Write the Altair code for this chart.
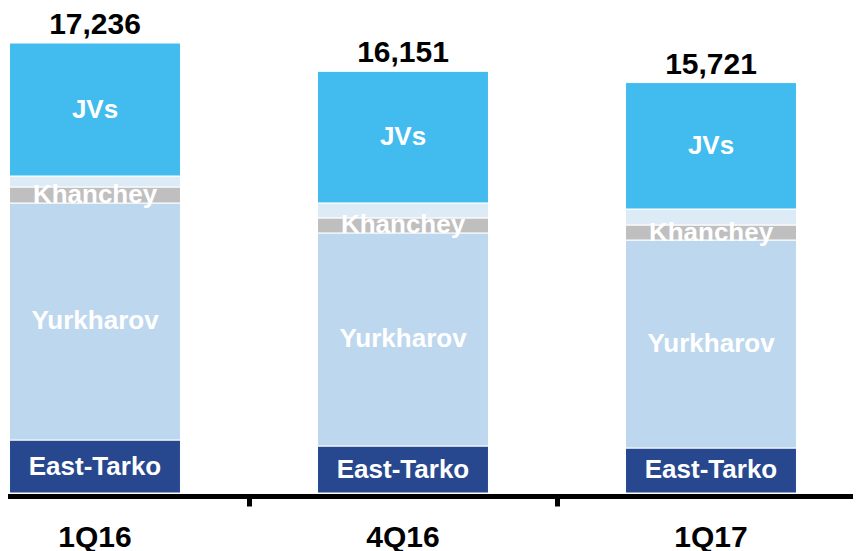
import altair as alt
import pandas as pd

quarters = ["1Q16", "4Q16", "1Q17"]
segments = ["East-Tarko", "Yurkharov", "Khanchey", "Other", "JVs"]
seg_labels = ["East-Tarko", "Yurkharov", "Khanchey", "", "JVs"]
east_tarko = [2030, 1800, 1724]
yurkharov = [9078, 8161, 7966]
khanchey = [613, 575, 575]
other = [421, 575, 613]
jvs = [5094, 5040, 4843]
totals = [17236, 16151, 15721]
total_labels = ["17,236", "16,151", "15,721"]
colors = ["#27488F", "#BDD7EE", "#BFBFBF", "#DDEBF7", "#42BCEE"]

series = [east_tarko, yurkharov, khanchey, other, jvs]
rows = []
for qi, q in enumerate(quarters):
    base = 0
    for si, seg in enumerate(segments):
        v = series[si][qi]
        rows.append({"quarter": q, "segment": seg, "label": seg_labels[si],
                     "start": base, "end": base + v, "mid": base + v / 2})
        base += v
df = pd.DataFrame(rows)
tot = pd.DataFrame({"quarter": quarters, "total": totals, "label": total_labels})

FONT = "Liberation Sans"
xscale = alt.Scale(domain=quarters, range=[-67, 857], paddingInner=0.445, paddingOuter=0.2225)
yscale = alt.Scale(domain=[0, 18577], nice=False, zero=True)

xaxis = alt.Axis(title=None, labelAngle=0, domainColor="black", domainWidth=5,
                 tickColor="black", tickWidth=5, tickSize=10, bandPosition=-0.4,
                 offset=3, labelFont=FONT, labelFontSize=30, labelFontWeight="bold",
                 labelColor="black", labelPadding=40, labelBaseline="alphabetic")

x = alt.X("quarter:N", sort=quarters, scale=xscale, axis=xaxis)

bars = alt.Chart(df).mark_bar(stroke="white", strokeWidth=1).encode(
    x=x,
    y=alt.Y("start:Q", scale=yscale, axis=None),
    y2="end:Q",
    color=alt.Color("segment:N", scale=alt.Scale(domain=segments, range=colors), legend=None),
)

labels = alt.Chart(df).transform_filter(alt.datum.label != "").mark_text(
    font=FONT, fontSize=26, fontWeight="bold", color="white", baseline="middle"
).encode(x=x, y=alt.Y("mid:Q", scale=yscale), text="label:N")

total_text = alt.Chart(tot).mark_text(
    font=FONT, fontSize=30, fontWeight="bold", color="black", baseline="alphabetic", dy=-9
).encode(x=x, y=alt.Y("total:Q", scale=yscale), text="label:N")

chart = alt.layer(bars, labels, total_text).properties(
    width=845, height=485,
    autosize=alt.AutoSizeParams(type="none"),
    padding={"left": 0, "top": 0, "right": 0, "bottom": 58},
).configure_view(stroke=None)

chart.save("out.html", embed_options={"renderer": "svg", "actions": False})
